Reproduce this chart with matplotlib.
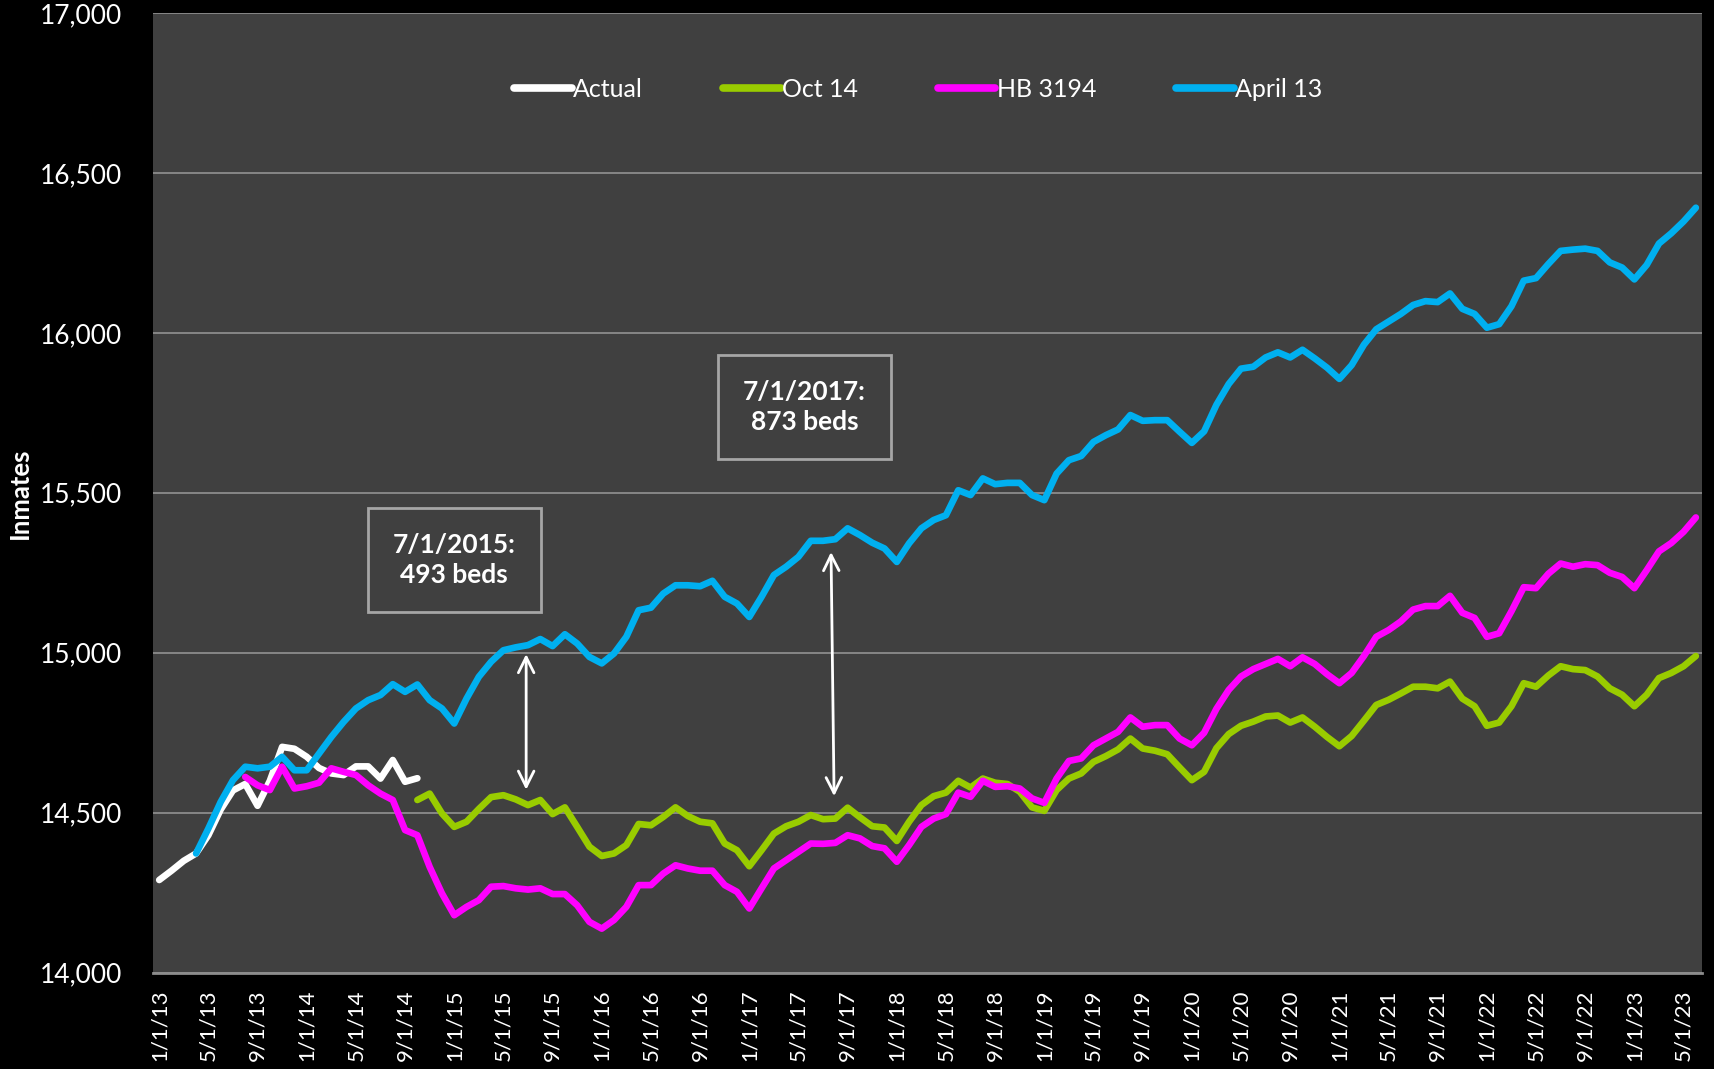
import matplotlib
matplotlib.use("Agg")
import matplotlib.pyplot as plt
import numpy as np

# monthly categories 1/1/13 .. 6/1/23
months = [f"{m}/1/{y}" for y in range(13, 24) for m in range(1, 13)][:126]

actual_start = 0
actual = [14290, 14319, 14350, 14373, 14430, 14510, 14570, 14590, 14522, 14600,
          14706, 14700, 14675, 14640, 14623, 14618, 14645, 14645, 14607, 14665,
          14597, 14608]

oct14_start = 21
oct14 = [14540, 14560, 14498, 14456, 14472, 14512, 14549, 14555, 14542, 14524,
         14540, 14496, 14517, 14456, 14394, 14365, 14373, 14399, 14465, 14461,
         14487, 14517, 14490, 14472, 14467, 14404, 14383, 14333, 14383, 14435,
         14458, 14472, 14493, 14480, 14482, 14516, 14486, 14458, 14454, 14412,
         14472, 14524, 14552, 14563, 14600, 14579, 14607, 14594, 14590, 14566,
         14517, 14506, 14571, 14607, 14623, 14659, 14677, 14698, 14732, 14701,
         14694, 14683, 14642, 14602, 14628, 14702, 14746, 14772, 14785, 14801,
         14804, 14782, 14798, 14769, 14737, 14708, 14740, 14788, 14837, 14853,
         14873, 14894, 14894, 14889, 14910, 14857, 14833, 14772, 14782, 14833,
         14905, 14894, 14929, 14958, 14949, 14946, 14926, 14889, 14869, 14833,
         14869, 14921, 14937, 14958, 14990]

hb_start = 7
hb3194 = [14612, 14586, 14571, 14644, 14576, 14583, 14594, 14639, 14628, 14618,
          14586, 14560, 14540, 14446, 14430, 14331, 14248, 14180, 14206, 14227,
          14269, 14271, 14264, 14260, 14264, 14246, 14246, 14211, 14159, 14138,
          14165, 14206, 14274, 14274, 14310, 14336, 14326, 14319, 14319, 14274,
          14253, 14201, 14264, 14326, 14352, 14378, 14404, 14403, 14406, 14430,
          14420, 14396, 14389, 14347, 14399, 14456, 14482, 14496, 14563, 14550,
          14600, 14581, 14583, 14576, 14545, 14531, 14607, 14662, 14670, 14711,
          14732, 14753, 14798, 14769, 14774, 14774, 14732, 14711, 14750, 14825,
          14884, 14926, 14949, 14965, 14981, 14958, 14986, 14965, 14933, 14905,
          14937, 14990, 15050, 15071, 15098, 15135, 15146, 15146, 15178, 15125,
          15109, 15050, 15061, 15130, 15205, 15202, 15247, 15279, 15269, 15277,
          15274, 15250, 15237, 15202, 15258, 15317, 15343, 15378, 15423]

apr13_start = 3
apr13 = [14373, 14451, 14534, 14602, 14644, 14639, 14644, 14675, 14633, 14633,
         14685, 14737, 14784, 14826, 14852, 14868, 14902, 14878, 14901, 14852,
         14826, 14779, 14857, 14925, 14972, 15008, 15017, 15024, 15043, 15021,
         15058, 15029, 14987, 14967, 14998, 15050, 15133, 15141, 15185, 15211,
         15211, 15208, 15225, 15175, 15154, 15112, 15175, 15243, 15269, 15300,
         15350, 15350, 15355, 15389, 15368, 15344, 15326, 15284, 15342, 15389,
         15415, 15430, 15508, 15493, 15545, 15527, 15531, 15531, 15493, 15477,
         15560, 15602, 15615, 15659, 15680, 15698, 15743, 15725, 15727, 15727,
         15691, 15656, 15692, 15775, 15840, 15888, 15894, 15923, 15939, 15923,
         15947, 15920, 15891, 15856, 15899, 15963, 16011, 16035, 16059, 16087,
         16099, 16096, 16123, 16075, 16059, 16016, 16027, 16083, 16163, 16171,
         16215, 16256, 16260, 16263, 16256, 16220, 16204, 16167, 16212, 16279,
         16311, 16348, 16391]

# callouts: text, box centre (month index, value)
notes = ["7/1/2015:\n493 beds", "7/1/2017:\n873 beds"]
note_pos = [(24.0, 15290), (52.5, 15769)]
# gap arrows: (x bottom, y bottom, x top, y top)
gaps = [(29.85, 14572, 29.85, 14996), (54.9, 14552, 54.65, 15315)]

plt.rcParams['font.family'] = ['Lato', 'DejaVu Sans']

fig = plt.figure(figsize=(17.14, 10.69), dpi=100, facecolor='black')
ax = fig.add_axes([0.0893, 0.090, 0.9037, 0.898])
ax.set_facecolor('#404040')

series = [
    ("Actual", actual_start, actual, 'white'),
    ("Oct 14", oct14_start, oct14, '#99cc00'),
    ("HB 3194", hb_start, hb3194, '#ff00ff'),
    ("April 13", apr13_start, apr13, '#00b0f0'),
]
for k, (name, start, vals, col) in enumerate(series):
    x = np.arange(start, start + len(vals))
    ax.plot(x, vals, color=col, lw=4.8, label=name, zorder=3 + k,
            solid_capstyle='round', solid_joinstyle='round')

ax.set_xlim(-0.5, len(months) - 0.5)
ax.set_ylim(14000, 17000)
ax.set_yticks(np.arange(14000, 17001, 500))
ax.set_yticklabels([f"{v:,}" for v in range(14000, 17001, 500)])
ax.yaxis.grid(True, color='#8c8c8c', lw=1.3)
ax.set_axisbelow(True)

ticks = np.arange(0, len(months), 4)
ax.set_xticks(ticks)
ax.set_xticklabels([months[i] for i in ticks], rotation=90)
ax.tick_params(axis='x', length=0, pad=12, labelsize=16, colors='white')
ax.tick_params(axis='y', length=0, pad=22, labelsize=19, colors='white')

for s in ['top', 'right', 'left']:
    ax.spines[s].set_visible(False)
ax.spines['bottom'].set_color('#8c8c8c')
ax.spines['bottom'].set_linewidth(2)

ax.set_ylabel("Inmates", color='white', fontsize=18.5, fontweight='bold')
ax.yaxis.set_label_coords(-0.078, 0.5)

leg = ax.legend(loc='center', bbox_to_anchor=(0.494, 0.920), ncol=4,
                frameon=False, fontsize=18, handlelength=2.3,
                handletextpad=0.05, columnspacing=3.2, labelcolor='white')
for h in leg.get_lines():
    h.set_linewidth(5.5)
    h.set_solid_capstyle('round')

for txt, (xc, yc) in zip(notes, note_pos):
    ax.text(xc, yc, txt, ha='center', va='center', color='white',
            fontsize=19, fontweight='bold', linespacing=1.3, zorder=10,
            bbox=dict(boxstyle='square,pad=0.95', fc='#404040',
                      ec='#a6a6a6', lw=2))

for x0, y0, x1, y1 in gaps:
    ax.annotate('', xy=(x1, y1), xytext=(x0, y0), zorder=10,
                arrowprops=dict(arrowstyle='<->', color='white', lw=2,
                                mutation_scale=28, shrinkA=0, shrinkB=0))

fig.savefig('out.png', dpi=100, facecolor='black')
